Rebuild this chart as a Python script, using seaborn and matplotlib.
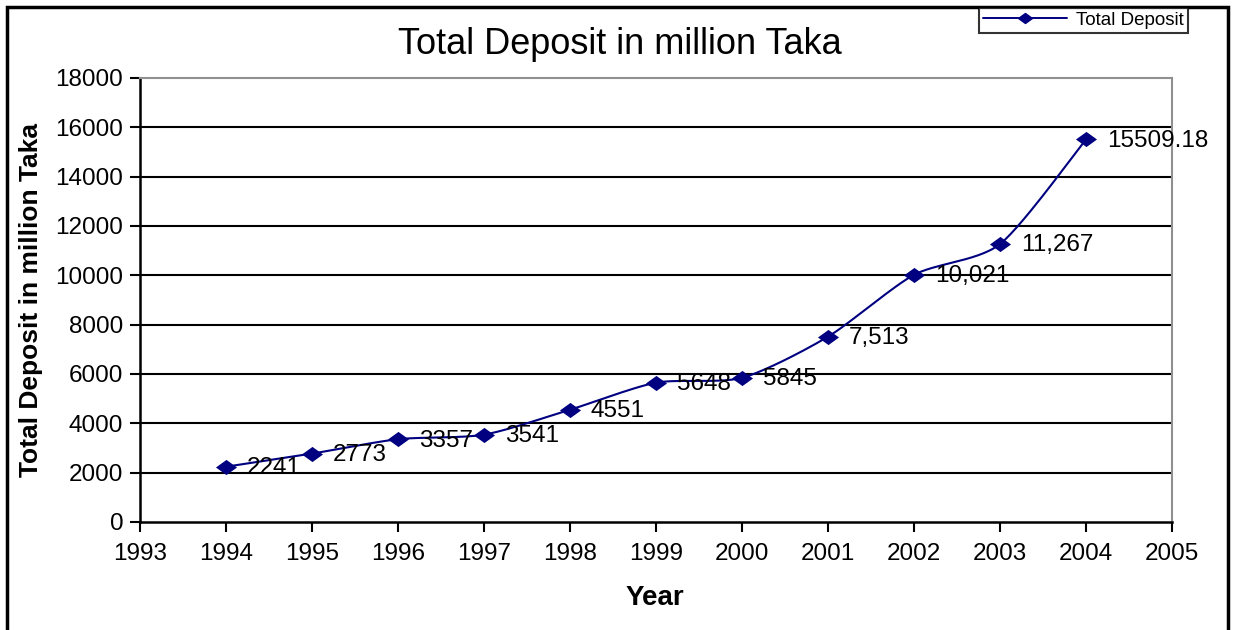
import numpy as np
import pandas as pd
import matplotlib
matplotlib.use("Agg")
import matplotlib.pyplot as plt
import seaborn as sns
from matplotlib.lines import Line2D
from matplotlib.patches import Rectangle

years = [1994, 1995, 1996, 1997, 1998, 1999, 2000, 2001, 2002, 2003, 2004]
deposit = [2241, 2773, 3357, 3541, 4551, 5648, 5845, 7513, 10021, 11267, 15509.18]
point_labels = ["2241", "2773", "3357", "3541", "4551", "5648", "5845",
                "7,513", "10,021", "11,267", "15509.18"]
x_ticks = list(range(1993, 2006))
y_ticks = list(range(0, 18001, 2000))

sns.set_theme(style="white")
plt.rcParams["font.family"] = ["Liberation Sans", "DejaVu Sans"]
plt.rcParams["text.color"] = "black"
plt.rcParams["axes.labelcolor"] = "black"
plt.rcParams["xtick.color"] = "black"
plt.rcParams["ytick.color"] = "black"

NAVY = "#000080"
diamond = [(-1.0, 0.0), (0.0, 0.72), (1.0, 0.0), (0.0, -0.72), (-1.0, 0.0)]


def smooth_curve(xs, ys, steps=30, k=1 / 8.0):
    """Bezier smoothing through the given points (Catmull-Rom tangents)."""
    xs = np.asarray(xs, float)
    ys = np.asarray(ys, float)
    px = np.concatenate([[xs[0]], xs, [xs[-1]]])
    py = np.concatenate([[ys[0]], ys, [ys[-1]]])
    out_x, out_y = [], []
    t = np.linspace(0, 1, steps)
    for i in range(1, len(px) - 2):
        p0, p1, p2, p3 = (np.array([px[j], py[j]]) for j in (i - 1, i, i + 1, i + 2))
        c1 = p1 + (p2 - p0) * k
        c2 = p2 - (p3 - p1) * k
        seg = ((1 - t)[:, None] ** 3 * p1 + 3 * ((1 - t) ** 2 * t)[:, None] * c1
               + 3 * ((1 - t) * t ** 2)[:, None] * c2 + (t ** 3)[:, None] * p2)
        out_x.extend(seg[:, 0])
        out_y.extend(seg[:, 1])
    return np.array(out_x), np.array(out_y)


fig = plt.figure(figsize=(12.36, 6.3), dpi=100)
ax = fig.add_axes([140 / 1236, 1 - 522 / 630, (1172 - 140) / 1236, (522 - 78) / 630])

sx, sy = smooth_curve(years, deposit)
curve = pd.DataFrame({"Year": sx, "Deposit": sy})
points = pd.DataFrame({"Year": years, "Deposit": deposit})

sns.lineplot(data=curve, x="Year", y="Deposit", ax=ax, color=NAVY, lw=1.5,
             sort=False, zorder=3)
sns.scatterplot(data=points, x="Year", y="Deposit", ax=ax, color=NAVY,
                marker=diamond, s=230, linewidth=0, zorder=4)

for x, y, lab in zip(years, deposit, point_labels):
    ax.annotate(lab, (x, y), xytext=(15, -1), textcoords="offset points",
                ha="left", va="center", fontsize=17.5, color="black", zorder=5)

ax.set_xlim(1993, 2005)
ax.set_ylim(0, 18000)
ax.set_xticks(x_ticks)
ax.set_yticks(y_ticks)
ax.tick_params(axis="both", labelsize=17.5, colors="black", direction="out",
               length=7, width=1.5, pad=6)
ax.tick_params(axis="x", bottom=True, pad=8)
ax.tick_params(axis="y", left=True, pad=5)

for y in y_ticks[1:-1]:
    ax.axhline(y, color="black", lw=1.5, zorder=1)

ax.spines["left"].set_color("black")
ax.spines["bottom"].set_color("black")
ax.spines["left"].set_linewidth(1.8)
ax.spines["bottom"].set_linewidth(1.8)
ax.spines["top"].set_color("#909090")
ax.spines["right"].set_color("#909090")
ax.spines["top"].set_linewidth(1.5)
ax.spines["right"].set_linewidth(1.5)

ax.set_xlabel("Year", fontsize=20, fontweight="bold", labelpad=14)
ax.xaxis.set_label_coords((655 - 140) / (1172 - 140), -(598 - 522) / (522 - 78))
ax.set_ylabel("Total Deposit in million Taka", fontsize=19, fontweight="bold")
ax.yaxis.set_label_coords(-(140 - 31) / (1172 - 140), 0.5)
ax.xaxis.label.set_va("center")
ax.yaxis.label.set_va("center")
fig.text(620 / 1236, 1 - 45 / 630, "Total Deposit in million Taka",
         fontsize=26, ha="center", va="center")

handle = Line2D([], [], color=NAVY, lw=1.4, marker=diamond, markersize=10)
leg = fig.legend([handle], ["Total Deposit"], loc="upper right",
                 bbox_to_anchor=(1188 / 1236, 1 - 8 / 630), fontsize=13.5,
                 frameon=True, fancybox=False, borderpad=0.2, handlelength=4.5,
                 handletextpad=0.5, borderaxespad=0)
leg.get_frame().set_edgecolor("black")
leg.get_frame().set_linewidth(1.5)

fig.patches.append(Rectangle((7 / 1236, -0.05), (1228 - 7) / 1236, 1.05 - 7 / 630,
                             transform=fig.transFigure, fill=False,
                             edgecolor="black", lw=2.5))

fig.savefig("out.png", dpi=100)
